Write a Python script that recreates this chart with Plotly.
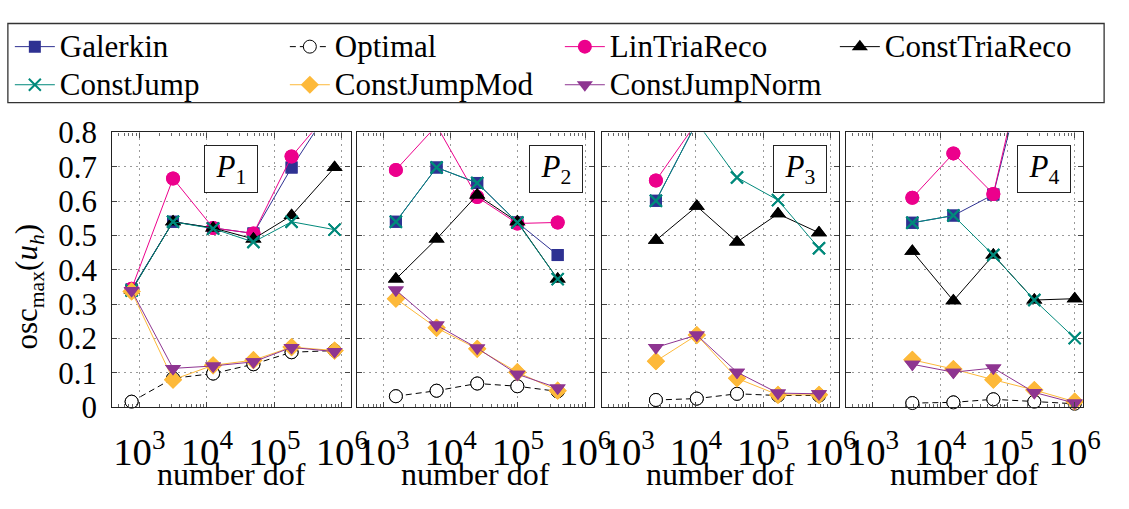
import plotly.graph_objects as go

W, H = 1129, 509
FONT = "Liberation Serif"

# ---------------- data ----------------
series_names = ["Galerkin", "Optimal", "LinTriaReco", "ConstTriaReco",
                "ConstJump", "ConstJumpMod", "ConstJumpNorm"]
panel_labels = ["<i>P</i><sub>1</sub>", "<i>P</i><sub>2</sub>",
                "<i>P</i><sub>3</sub>", "<i>P</i><sub>4</sub>"]
x_title = "number dof"
y_title = "osc<sub>max</sub>(<i>u</i><sub><i>h</i></sub>)"

dof_p1 = [770, 3160, 12400, 49000, 180000, 780000]
dof_p2 = [1530, 6170, 24800, 98000, 390000]
dof_p3 = [2540, 10300, 40800, 166000, 676000]
dof_p4 = [3850, 15700, 61700, 251000, 1000000]

galerkin_p1 = [0.343, 0.540, 0.522, 0.506, 0.698, 0.890]
optimal_p1 = [0.016, 0.084, 0.098, 0.125, 0.160, 0.165]
lintria_p1 = [0.345, 0.666, 0.522, 0.506, 0.730, 0.878]
consttria_p1 = [0.340, 0.540, 0.522, 0.490, 0.558, 0.698]
constjump_p1 = [0.340, 0.540, 0.520, 0.481, 0.540, 0.517]
constjumpmod_p1 = [0.337, 0.080, 0.122, 0.137, 0.175, 0.165]
constjumpnorm_p1 = [0.340, 0.113, 0.120, 0.132, 0.174, 0.162]

galerkin_p2 = [0.540, 0.698, 0.653, 0.538, 0.443]
optimal_p2 = [0.032, 0.048, 0.069, 0.061, 0.046]
lintria_p2 = [0.691, 0.820, 0.612, 0.535, 0.538]
consttria_p2 = [0.373, 0.490, 0.618, 0.540, 0.373]
constjump_p2 = [0.540, 0.698, 0.653, 0.538, 0.373]
constjumpmod_p2 = [0.316, 0.231, 0.170, 0.102, 0.048]
constjumpnorm_p2 = [0.341, 0.239, 0.172, 0.096, 0.056]

galerkin_p3 = [0.601, 0.830, 0.950, 1.100, 1.200]
optimal_p3 = [0.021, 0.025, 0.039, 0.034, 0.034]
lintria_p3 = [0.660, 0.830, 0.950, 1.050, 1.100]
consttria_p3 = [0.486, 0.585, 0.481, 0.563, 0.508]
constjump_p3 = [0.601, 0.830, 0.669, 0.603, 0.463]
constjumpmod_p3 = [0.134, 0.210, 0.084, 0.036, 0.036]
constjumpnorm_p3 = [0.174, 0.210, 0.102, 0.041, 0.039]

galerkin_p4 = [0.537, 0.558, 0.619, 1.100, 1.200]
optimal_p4 = [0.012, 0.014, 0.023, 0.016, 0.010]
lintria_p4 = [0.610, 0.739, 0.621, 1.140, 1.200]
consttria_p4 = [0.454, 0.310, 0.443, 0.312, 0.316]
constjump_p4 = [0.537, 0.558, 0.443, 0.312, 0.201]
constjumpmod_p4 = [0.138, 0.111, 0.080, 0.050, 0.016]
constjumpnorm_p4 = [0.125, 0.102, 0.114, 0.043, 0.012]

y_ticks = [0, 0.1, 0.2, 0.3, 0.4, 0.5, 0.6, 0.7, 0.8]

panels = [
    (dof_p1, [galerkin_p1, optimal_p1, lintria_p1, consttria_p1, constjump_p1, constjumpmod_p1, constjumpnorm_p1]),
    (dof_p2, [galerkin_p2, optimal_p2, lintria_p2, consttria_p2, constjump_p2, constjumpmod_p2, constjumpnorm_p2]),
    (dof_p3, [galerkin_p3, optimal_p3, lintria_p3, consttria_p3, constjump_p3, constjumpmod_p3, constjumpnorm_p3]),
    (dof_p4, [galerkin_p4, optimal_p4, lintria_p4, consttria_p4, constjump_p4, constjumpmod_p4, constjumpnorm_p4]),
]

# ---------------- styles ----------------
styles = {
    "Galerkin": dict(color="#2E3192", symbol="square", size=12, dash="solid", fill="#2E3192", mlw=0),
    "Optimal": dict(color="black", symbol="circle", size=13, dash="6px,4px", fill="white", mlw=1),
    "LinTriaReco": dict(color="#EC008C", symbol="circle", size=14, dash="solid", fill="#EC008C", mlw=0),
    "ConstTriaReco": dict(color="black", symbol="triangle-up", size=14, dash="solid", fill="black", mlw=0),
    "ConstJump": dict(color="#00897B", symbol="x-thin", size=12, dash="solid", fill="#00897B", mlw=2),
    "ConstJumpMod": dict(color="#FDB93A", symbol="diamond", size=14, dash="solid", fill="#FDB93A", mlw=0),
    "ConstJumpNorm": dict(color="#8E3591", symbol="triangle-down", size=14, dash="solid", fill="#8E3591", mlw=0),
}

px_x = [(114, 356), (362, 603), (611, 852), (859, 1100)]
py_top, py_bot = 124, 419
ydom = [1 - py_bot / H, 1 - py_top / H]

fig = go.Figure()

for p, (dof, vals) in enumerate(panels):
    xa = "x" if p == 0 else f"x{p+1}"
    ya = "y" if p == 0 else f"y{p+1}"
    for name, v in zip(series_names, vals):
        s = styles[name]
        marker = dict(symbol=s["symbol"], size=s["size"], color=s["fill"],
                      line=dict(color=s["color"], width=s["mlw"]))
        fig.add_trace(go.Scatter(
            x=dof, y=v, mode="lines+markers",
            name=f'<span style="font-size:31px">{name}</span>', legendgroup=name,
            showlegend=(p == 0), xaxis=xa, yaxis=ya, cliponaxis=True,
            line=dict(color=s["color"], width=1, dash=s["dash"]), marker=marker))
        fig.add_trace(go.Scatter(
            x=dof, y=v, mode="markers", name=name, legendgroup=name,
            showlegend=False, xaxis=xa, yaxis=ya, cliponaxis=False,
            marker=marker, hoverinfo="skip"))

axis_common = dict(showline=True, linecolor="#222", linewidth=1.3, mirror="ticks",
                   ticks="inside", ticklen=5, tickcolor="#444", tickwidth=1,
                   showgrid=True, gridcolor="#9a9a9a", gridwidth=1.2, griddash="2px,4px",
                   zeroline=False, tickfont=dict(family=FONT, size=31, color="black"))

layout = {}
for p in range(4):
    xk = "xaxis" if p == 0 else f"xaxis{p+1}"
    yk = "yaxis" if p == 0 else f"yaxis{p+1}"
    x0, x1 = px_x[p]
    layout[xk] = dict(axis_common, type="log", range=[2.6, 6.13],
                      domain=[x0 / W, x1 / W], anchor="y" if p == 0 else f"y{p+1}",
                      tickmode="linear", tick0=0, dtick=1, exponentformat="power",
                      ticklabelstandoff=12,
                      minor=dict(ticks="inside", ticklen=3, tickcolor="#666", dtick="D1", showgrid=False))
    layout[yk] = dict(axis_common, range=[0, 0.8], domain=ydom,
                      anchor="x" if p == 0 else f"x{p+1}",
                      tickmode="array", tickvals=y_ticks, ticklabelstandoff=8,
                      showticklabels=(p == 0))
fig.update_layout(**layout)

annotations = []
for p in range(4):
    x0, x1 = px_x[p]
    annotations.append(dict(text=x_title, xref="paper", yref="paper",
                            x=(x0 + x1) / 2 / W, y=1 - 491 / H, xanchor="center", yanchor="middle",
                            showarrow=False, font=dict(family=FONT, size=32, color="black")))
label_cx = [235, 564, 812, 1060]
for p in range(4):
    annotations.append(dict(text=panel_labels[p], xref="paper", yref="paper",
                            x=label_cx[p] / W, y=1 - 163 / H, xanchor="center", yanchor="middle",
                            showarrow=False, width=50, height=44, borderpad=1,
                            bordercolor="#222", borderwidth=1, bgcolor="white",
                            font=dict(family=FONT, size=31, color="black")))
annotations.append(dict(text=y_title, xref="paper", yref="paper", x=30 / W, y=1 - 290 / H,
                        xanchor="center", yanchor="middle", textangle=-90, showarrow=False,
                        font=dict(family=FONT, size=31, color="black")))

fig.update_layout(
    width=W, height=H, margin=dict(l=0, r=0, t=0, b=0),
    paper_bgcolor="white", plot_bgcolor="white",
    annotations=annotations,
    shapes=[dict(type="rect", xref="paper", yref="paper", x0=8 / W, x1=1121 / W,
                 y0=1 - 92 / H, y1=1 - 7 / H, line=dict(color="#333", width=1.3), fillcolor="rgba(0,0,0,0)")],
    legend=dict(orientation="h", x=10 / W, y=1 - 6 / H, xanchor="left", yanchor="top",
                font=dict(family=FONT, size=27, color="black"), itemwidth=40,
                entrywidth=220, entrywidthmode="pixels",
                bgcolor="rgba(0,0,0,0)", borderwidth=0, traceorder="normal"),
    showlegend=True,
)

fig.write_html(
    "out.html",
    post_script="document.documentElement.style.margin='0';document.body.style.margin='0';"
                "document.documentElement.style.overflow='hidden';document.body.style.overflow='hidden';",
)
